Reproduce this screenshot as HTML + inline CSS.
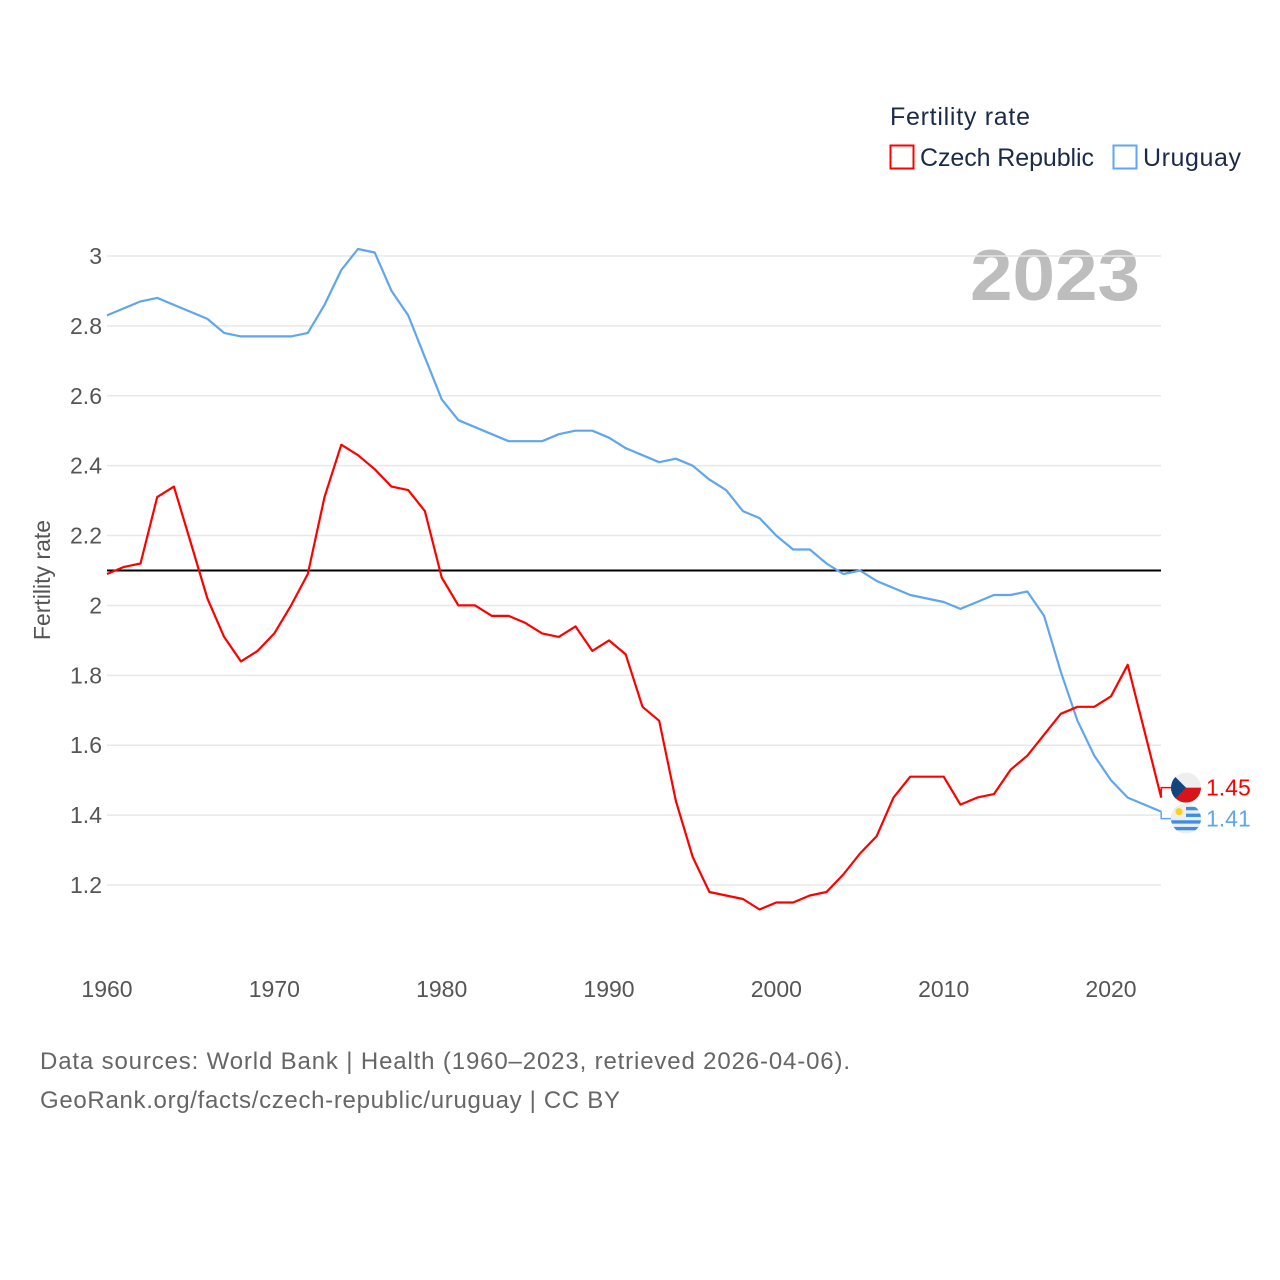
<!DOCTYPE html>
<html><head><meta charset="utf-8">
<style>
body{margin:0;background:#fff;font-family:"Liberation Sans",sans-serif;}
svg{display:block}
text{font-family:"Liberation Sans",sans-serif}
</style></head>
<body>
<svg id="chart" width="1280" height="1280" viewBox="0 0 1280 1280">
  <g>
    <text x="890" y="125" font-size="25" fill="#1a2b4a" textLength="140">Fertility rate</text>
    <g>
      <rect x="890.5" y="145.5" width="23" height="23" fill="none" stroke="#ff0000" stroke-width="2"/>
      <text x="920" y="166" font-size="25" fill="#1a2b4a" textLength="174">Czech Republic</text>
    </g>
    <g>
      <rect x="1113.5" y="145.5" width="23" height="23" fill="none" stroke="#5fa6ee" stroke-width="2"/>
      <text x="1143" y="166" font-size="25" fill="#1a2b4a" textLength="98">Uruguay</text>
    </g>
  </g>
  <text x="970" y="300" font-size="72" font-weight="bold" fill="#bdbdbd" textLength="170" lengthAdjust="spacingAndGlyphs">2023</text>
  <g id="grid"></g>
  <g id="yticks"></g>
  <g id="xticks"></g>
  <text transform="translate(50,580) rotate(-90)" font-size="23" fill="#555" text-anchor="middle">Fertility rate</text>
  <g id="series"></g>
  <g id="endlabels"></g>
  <text x="40" y="1069" font-size="24" fill="#666" textLength="810">Data sources: World Bank | Health (1960–2023, retrieved 2026-04-06).</text>
  <text x="40" y="1108" font-size="24" fill="#666" textLength="580">GeoRank.org/facts/czech-republic/uruguay | CC BY</text>
</svg>
<script>
const years = [];
for (let y = 1960; y <= 2023; y++) years.push(y);
const czech = [2.09,2.11,2.12,2.31,2.34,2.18,2.02,1.91,1.84,1.87,1.92,2.00,2.09,2.31,2.46,2.43,2.39,2.34,2.33,2.27,2.08,2.00,2.00,1.97,1.97,1.95,1.92,1.91,1.94,1.87,1.90,1.86,1.71,1.67,1.44,1.28,1.18,1.17,1.16,1.13,1.15,1.15,1.17,1.18,1.23,1.29,1.34,1.45,1.51,1.51,1.51,1.43,1.45,1.46,1.53,1.57,1.63,1.69,1.71,1.71,1.74,1.83,1.64,1.45];
const uruguay = [2.83,2.85,2.87,2.88,2.86,2.84,2.82,2.78,2.77,2.77,2.77,2.77,2.78,2.86,2.96,3.02,3.01,2.90,2.83,2.71,2.59,2.53,2.51,2.49,2.47,2.47,2.47,2.49,2.50,2.50,2.48,2.45,2.43,2.41,2.42,2.40,2.36,2.33,2.27,2.25,2.20,2.16,2.16,2.12,2.09,2.10,2.07,2.05,2.03,2.02,2.01,1.99,2.01,2.03,2.03,2.04,1.97,1.81,1.67,1.57,1.50,1.45,1.43,1.41];
const yTicks = [1.2,1.4,1.6,1.8,2,2.2,2.4,2.6,2.8,3];
const xTicks = [1960,1970,1980,1990,2000,2010,2020];
const replacement = 2.1;

const NS = "http://www.w3.org/2000/svg";
const X = yr => 107 + (yr - 1960) * (1111 - 107) / 60;
const Y = v => 256 + (3 - v) * (885 - 256) / 1.8;
function mk(tag, attrs, parent){const e=document.createElementNS(NS,tag);for(const k in attrs)e.setAttribute(k,attrs[k]);parent.appendChild(e);return e;}

const grid=document.getElementById('grid'), yt=document.getElementById('yticks'), xt=document.getElementById('xticks');
yTicks.forEach(v=>{
  const l=mk('line',{x1:107,x2:1161,y1:Y(v),y2:Y(v),stroke:'#e8e8e8','stroke-width':1.5},grid);
  
  
  const t=mk('text',{x:102,y:Y(v)+8,'font-size':23,fill:'#555','text-anchor':'end'},yt);
  t.textContent=String(v);
  
  
});
xTicks.forEach(yr=>{
  const t=mk('text',{x:X(yr),y:997,'font-size':23,fill:'#555','text-anchor':'middle'},xt);
  t.textContent=String(yr);
  
  
});
const s=document.getElementById('series');
const rl=mk('line',{x1:107,x2:1161,y1:Y(replacement),y2:Y(replacement),stroke:'#000','stroke-width':2},s);


function line(vals,color,name){
  const p=mk('polyline',{points:vals.map((v,i)=>X(years[i]).toFixed(1)+','+Y(v).toFixed(1)).join(' '),fill:'none',stroke:color,'stroke-width':2.2,'stroke-linejoin':'round'},s);
  
  
}
line(uruguay,'#5fa6ee','uruguay-line');
line(czech,'#ff0000','czech-line');

const el=document.getElementById('endlabels');
const lx=X(2023);
const cz=czech[czech.length-1], uy=uruguay[uruguay.length-1];
const cy1=Y(cz)-10, cy2=Y(uy)+7;
mk('polyline',{points:`${lx},${Y(cz)} ${lx},${cy1} ${lx+10},${cy1}`,fill:'none',stroke:'#ff0000','stroke-width':1.5},el);
mk('polyline',{points:`${lx},${Y(uy)} ${lx},${cy2} ${lx+10},${cy2}`,fill:'none',stroke:'#5fa6ee','stroke-width':1.5},el);
const cx=1186;
// Czech flag
const fc=mk('g',{},el);


const cp1=mk('clipPath',{id:'c1'},fc);
mk('circle',{cx:cx,cy:cy1,r:15},cp1);
const g1=mk('g',{'clip-path':'url(#c1)'},fc);
mk('rect',{x:cx-15,y:cy1-15,width:30,height:15,fill:'#eee'},g1);
mk('rect',{x:cx-15,y:cy1,width:30,height:15,fill:'#d7141a'},g1);
mk('polygon',{points:`${cx-15},${cy1-15} ${cx},${cy1} ${cx-15},${cy1+15}`,fill:'#11457e'},g1);
// Uruguay flag
const fu=mk('g',{},el);


const cp2=mk('clipPath',{id:'c2'},fu);
mk('circle',{cx:cx,cy:cy2,r:15},cp2);
const g2=mk('g',{'clip-path':'url(#c2)'},fu);
mk('rect',{x:cx-15,y:cy2-15,width:30,height:30,fill:'#eee'},g2);
for(let i=1;i<9;i+=2) mk('rect',{x:cx-15,y:cy2-15+i*30/9,width:30,height:30/9,fill:'#3a8ee6'},g2);
mk('rect',{x:cx-15,y:cy2-15,width:15,height:16,fill:'#eee'},g2);
mk('circle',{cx:cx-7,cy:cy2-7,r:3.5,fill:'#fcd116'},g2);
const t1=mk('text',{x:1206,y:cy1+8,'font-size':23,fill:'#ff0000'},el);
t1.textContent=cz.toFixed(2);


const t2=mk('text',{x:1206,y:cy2+8,'font-size':23,fill:'#5fa6ee'},el);
t2.textContent=uy.toFixed(2);


</script>
</body></html>
